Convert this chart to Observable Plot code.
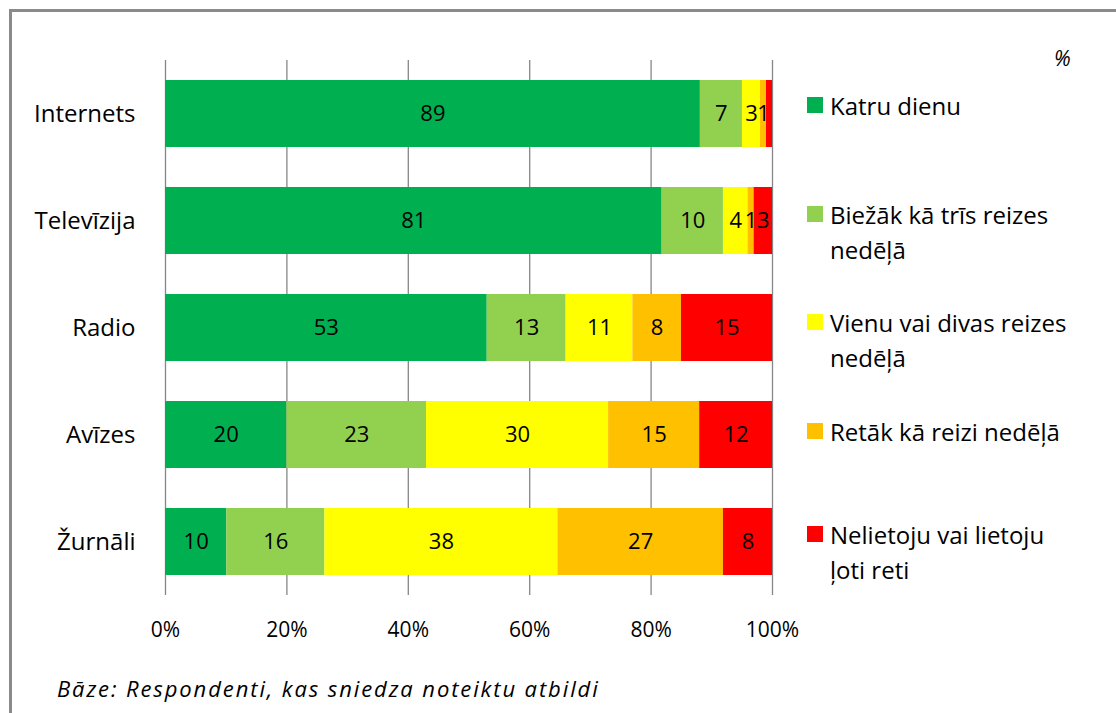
<!DOCTYPE html>
<html>
<head>
<meta charset="utf-8">
<script src="https://cdn.jsdelivr.net/npm/d3@7"></script>
<script src="https://cdn.jsdelivr.net/npm/@observablehq/plot@0.6"></script>
<style>
  body { margin: 0; background: #fff; font-family: "Open Sans", Lato, sans-serif; }
  #wrap { position: relative; width: 1116px; height: 713px; overflow: hidden; }
  #frame { position: absolute; left: 9px; top: 9px; width: 1200px; height: 800px;
           border-top: 3px solid #8a8a8a; border-left: 3px solid #8a8a8a; }
  #chart { position: absolute; left: 0; top: 0; }
  #legend { position: absolute; left: 807px; top: 0; font-size: 24px; color: #000; }
  .item { position: absolute; left: 0; white-space: nowrap; line-height: 35px; }
  .sw { position: absolute; left: 0; top: 9px; width: 16px; height: 16px; }
  .lt { position: absolute; left: 23px; top: 0; }
  #pct { position: absolute; left: 1054px; top: 44px; font-size: 21px; font-style: italic; }
  #caption { position: absolute; left: 57px; top: 673px; font-size: 22px; font-style: italic; letter-spacing: 1.9px; }
</style>
</head>
<body>
<div id="wrap">
  <div id="frame"></div>
  <div id="chart"></div>
  <div id="pct">%</div>
  <div id="legend"></div>
  <div id="caption">Bāze: Respondenti, kas sniedza noteiktu atbildi</div>
</div>
<script>
const categories = ["Internets", "Televīzija", "Radio", "Avīzes", "Žurnāli"];
const series = ["Katru dienu", "Biežāk kā trīs reizes nedēļā", "Vienu vai divas reizes nedēļā", "Retāk kā reizi nedēļā", "Nelietoju vai lietoju ļoti reti"];
const seriesLegend = ["Katru dienu", "Biežāk kā trīs reizes<br>nedēļā", "Vienu vai divas reizes<br>nedēļā", "Retāk kā reizi nedēļā", "Nelietoju vai lietoju<br>ļoti reti"];
const colors = ["#00B050", "#92D050", "#FFFF00", "#FFC000", "#FF0000"];
// values per category, in series order
const valInternets  = [89, 7, 3, 1, 1];
const valTelevizija = [81, 10, 4, 1, 3];
const valRadio      = [53, 13, 11, 8, 15];
const valAvizes     = [20, 23, 30, 15, 12];
const valZurnali    = [10, 16, 38, 27, 8];
// labels shown (Internets' last label is not shown)
const showInternets = [true, true, true, true, false];
const xTicks = [0, 0.2, 0.4, 0.6, 0.8, 1];

const allVals = [valInternets, valTelevizija, valRadio, valAvizes, valZurnali];
const data = [];
categories.forEach((c, i) => {
  allVals[i].forEach((v, j) => {
    data.push({cat: c, series: series[j], value: v,
               show: i === 0 ? showInternets[j] : true});
  });
});

const plot = Plot.plot({
  width: 830,
  height: 650,
  marginLeft: 165,
  marginRight: 58,
  marginTop: 60,
  marginBottom: 55,
  style: {fontFamily: "'Open Sans', Lato, sans-serif", fontSize: "20px", color: "#000", background: "transparent", overflow: "visible"},
  x: {domain: [0, 1], ticks: xTicks, tickFormat: d3.format(".0%"), label: null},
  y: {domain: categories, label: null, paddingInner: 0.37, paddingOuter: 0.185},
  color: {domain: series, range: colors},
  marks: [
    Plot.ruleX(xTicks, {stroke: "#868686", strokeWidth: 1.3}),
    Plot.barX(data, Plot.stackX({x: "value", y: "cat", fill: "series", offset: "normalize", order: series})),
    Plot.textX(data, Plot.stackX({x: "value", y: "cat", z: "series", offset: "normalize", order: series,
      text: d => d.show ? String(d.value) : "", fill: "#000", fontSize: 22})),
    Plot.axisX({ticks: xTicks, tickFormat: d3.format(".0%"), tickSize: 0, tickPadding: 27, fontSize: 21, anchor: "bottom", label: null}),
    Plot.axisY({tickSize: 0, tickPadding: 30, fontSize: 24, label: null})
  ]
});
document.getElementById("chart").appendChild(plot);

const legendTops = [88, 197, 305, 414, 517];
const legend = document.getElementById("legend");
seriesLegend.forEach((s, i) => {
  const it = document.createElement("div");
  it.className = "item";
  it.style.top = legendTops[i] + "px";
  it.innerHTML = `<div class="sw" style="background:${colors[i]}"></div><div class="lt">${s}</div>`;
  legend.appendChild(it);
});
</script>
</body>
</html>
